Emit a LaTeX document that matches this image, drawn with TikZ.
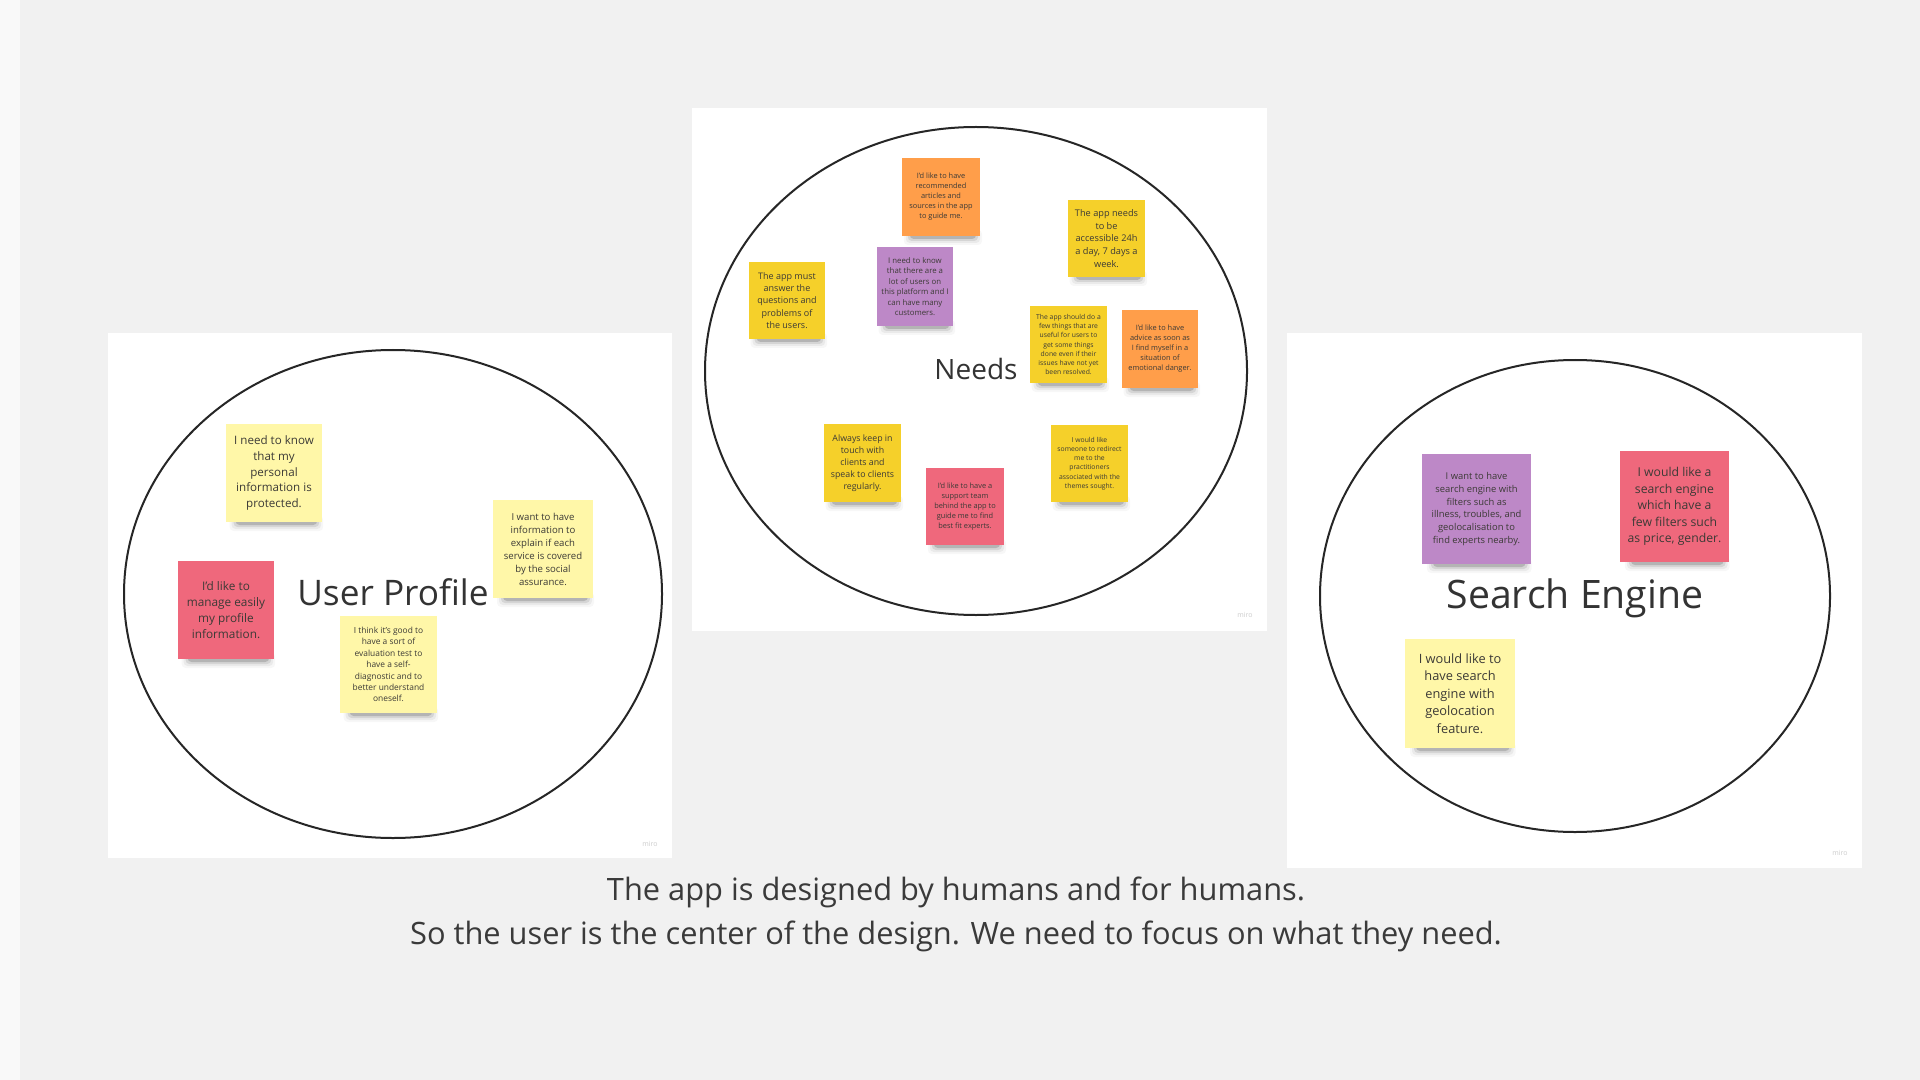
\documentclass[tikz,border=0pt]{standalone}
\usepackage{fontspec}
\setmainfont{Open Sans}
\usetikzlibrary{calc}
\definecolor{paper}{HTML}{F1F1F1}
\definecolor{ink}{HTML}{262626}
\definecolor{titleink}{HTML}{333333}
\definecolor{captionink}{HTML}{3A3A3A}
\definecolor{noteink}{HTML}{3C3A36}
\definecolor{paleyellow}{HTML}{FFF7A8}
\definecolor{sunyellow}{HTML}{F5D02A}
\definecolor{tangerine}{HTML}{FF9E4A}
\definecolor{rosered}{HTML}{EF687C}
\definecolor{lilac}{HTML}{BD88C7}
\tikzset{
  panel/.style={fill=white, draw=none},
  ring/.style={draw=ink, line width=1pt},
  heading/.style={text=titleink, inner sep=0pt},
  sticky/.style={inner sep=0pt, align=center, text=noteink},
  brand/.style={text=gray!40, inner sep=0pt, font=\fontsize{3.5}{4}\selectfont},
  caption/.style={text=captionink, inner sep=0pt, align=center}
}
% sticky note: name, x1, y1, x2, y2, colour, font size, line skip, text
\newcommand\postit[9]{%
  \foreach \k/\op in {0/0.15,2/0.09,4/0.05,6/0.03}{%
    \fill[black,opacity=\op,rounded corners=2pt]
      ({#2+0.1*(#4-#2)-\k},{#5-6}) rectangle ({#4-0.05*(#4-#2)+\k},{#5+3+\k});}
  \node[sticky, fill=#6, minimum width={(#4-#2)*0.5pt}, minimum height={(#5-#3)*0.5pt},
        font=\fontsize{#7}{#8}\selectfont] (#1) at ({(#2+#4)/2},{(#3+#5)/2}) {#9};}
\begin{document}
\begin{tikzpicture}[x=0.5pt, y=-0.5pt]
\useasboundingbox (0,0) rectangle (1920,1080);
% paper background
\fill[paper] (0,0) rectangle (1920,1080);
\fill[white,opacity=0.6] (0,0) rectangle (20,1080);

% ---- User Profile board
\fill[panel] (108,333) rectangle (672,858);
\draw[ring] (393,594) ellipse [x radius=269, y radius=244];
\node[heading, font=\fontsize{17.6}{20}\selectfont] (userprofile) at (393,592) {User Profile};
\postit{up1}{226}{424}{322}{522}{paleyellow}{5.8}{7.85}{I need to know\\that my\\personal\\information is\\protected.}
\postit{up2}{178}{561}{274}{659}{rosered}{5.9}{8}{I'd like to\\manage easily\\my profile\\information.}
\postit{up3}{340}{616}{437}{713}{paleyellow}{4.2}{5.7}{I think it's good to\\have a sort of\\evaluation test to\\have a self-\\diagnostic and to\\better understand\\oneself.}
\postit{up4}{493}{500}{593}{598}{paleyellow}{4.8}{6.5}{I want to have\\information to\\explain if each\\service is covered\\by the social\\assurance.}
\node[brand] (miroA) at (650,844) {miro};

% ---- Needs board
\fill[panel] (692,108) rectangle (1267,631);
\draw[ring] (976,371) ellipse [x radius=271, y radius=244];
\node[heading, font=\fontsize{14}{16}\selectfont] (needs) at (976,369) {Needs};
\postit{nd1}{902}{158}{980}{236}{tangerine}{3.7}{5}{I'd like to have\\recommended\\articles and\\sources in the app\\to guide me.}
\postit{nd2}{1068}{200}{1145}{277}{sunyellow}{4.6}{6.3}{The app needs\\to be\\accessible 24h\\a day, 7 days a\\week.}
\postit{nd3}{749}{262}{825}{339}{sunyellow}{4.5}{6.1}{The app must\\answer the\\questions and\\problems of\\the users.}
\postit{nd4}{877}{247}{953}{326}{lilac}{3.9}{5.25}{I need to know\\that there are a\\lot of users on\\this platform and I\\can have many\\customers.}
\postit{nd5}{1030}{306}{1107}{383}{sunyellow}{3.4}{4.6}{The app should do a\\few things that are\\useful for users to\\get some things\\done even if their\\issues have not yet\\been resolved.}
\postit{nd6}{1122}{310}{1198}{388}{tangerine}{3.7}{5}{I'd like to have\\advice as soon as\\I find myself in a\\situation of\\emotional danger.}
\postit{nd7}{824}{424}{901}{502}{sunyellow}{4.4}{6}{Always keep in\\touch with\\clients and\\speak to clients\\regularly.}
\postit{nd8}{926}{468}{1004}{545}{rosered}{3.7}{5.05}{I'd like to have a\\support team\\behind the app to\\guide me to find\\best fit experts.}
\postit{nd9}{1051}{425}{1128}{502}{sunyellow}{3.4}{4.65}{I would like\\someone to redirect\\me to the\\practitioners\\associated with the\\themes sought.}
\node[brand] (miroB) at (1245,615) {miro};

% ---- Search Engine board
\fill[panel] (1287,333) rectangle (1862,868);
\draw[ring] (1575,596) ellipse [x radius=255, y radius=236];
\node[heading, font=\fontsize{19.6}{22}\selectfont] (search) at (1575,598) {Search Engine};
\postit{se1}{1422}{454}{1531}{564}{lilac}{4.7}{6.35}{I want to have\\search engine with\\filters such as\\illness, troubles, and\\geolocalisation to\\find experts nearby.}
\postit{se2}{1620}{451}{1729}{562}{rosered}{6.1}{8.25}{I would like a\\search engine\\which have a\\few filters such\\as price, gender.}
\postit{se3}{1405}{639}{1515}{748}{paleyellow}{6.4}{8.7}{I would like to\\have search\\engine with\\geolocation\\feature.}
\node[brand] (miroC) at (1840,853) {miro};

% ---- caption
\node[caption, font=\fontsize{15.4}{22}\selectfont] (motto) at (956,914)
  {The app is designed by humans and for humans.\\So the user is the center of the design. We need to focus on what they need.};
\end{tikzpicture}
\end{document}
